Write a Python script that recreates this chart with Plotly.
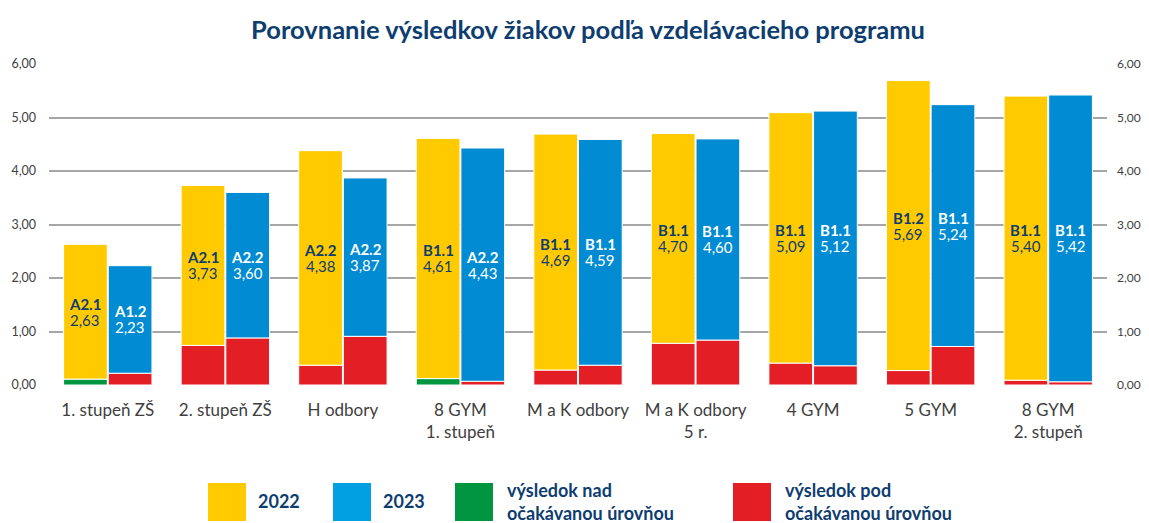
import plotly.graph_objects as go

categories = ["1. stupeň ZŠ", "2. stupeň ZŠ", "H odbory", "8 GYM<br>1. stupeň",
              "M a K odbory", "M a K odbory<br>5 r.", "4 GYM", "5 GYM", "8 GYM<br>2. stupeň"]
total_2022 = [2.63, 3.73, 4.38, 4.61, 4.69, 4.70, 5.09, 5.69, 5.40]
total_2023 = [2.23, 3.60, 3.87, 4.43, 4.59, 4.60, 5.12, 5.24, 5.42]
level_2022 = ["A2.1", "A2.1", "A2.2", "B1.1", "B1.1", "B1.1", "B1.1", "B1.2", "B1.1"]
level_2023 = ["A1.2", "A2.2", "A2.2", "A2.2", "B1.1", "B1.1", "B1.1", "B1.1", "B1.1"]
nad_2022 = [0.11, 0, 0, 0.12, 0, 0, 0, 0, 0]
pod_2022 = [0, 0.74, 0.37, 0, 0.28, 0.78, 0.41, 0.27, 0.09]
nad_2023 = [0, 0, 0, 0, 0, 0, 0, 0, 0]
pod_2023 = [0.22, 0.88, 0.91, 0.07, 0.37, 0.84, 0.36, 0.72, 0.06]

YELLOW = "#FFCA00"
BLUE = "#008BD2"
BLUE_LEG = "#00A0E3"
GREEN = "#009640"
RED = "#E31E24"
NAVY = "#0E3D70"
GRAY_TXT = "#404040"
FONT = "Lato"

# page has an 8px body margin: figure pixel = screen pixel - 8
OFF = 8
W, H = 1149 - OFF, 523 - OFF
# plot area in screen pixels: x 49..1107, y 64..385
ML, MT = 49 - OFF, 64 - OFF
MR = W - (1107 - OFF)
MB = H - (385 - OFF)


def fmt(v):
    return f"{v:.2f}".replace(".", ",")


def px2x(px):
    return (px - OFF - ML) / (W - ML - MR)


def px2y(py):
    return (H - MB - (py - OFF)) / (H - MT - MB)


fig = go.Figure()
annotations = []
BW = 0.372
for year, totals, levels, nad, pod, off, main_col, txt_col in [
    ("2022", total_2022, level_2022, nad_2022, pod_2022, -0.376, YELLOW, NAVY),
    ("2023", total_2023, level_2023, nad_2023, pod_2023, 0.004, BLUE, "white"),
]:
    bottom = [a + b for a, b in zip(nad, pod)]
    bcol = [GREEN if a > 0 else RED for a in nad]
    fig.add_trace(go.Bar(
        x=categories, y=bottom, width=BW, offset=off,
        marker=dict(color=bcol, line=dict(color="white", width=1)),
        showlegend=False, hoverinfo="skip"))
    fig.add_trace(go.Bar(
        x=categories, y=[t - b for t, b in zip(totals, bottom)], base=bottom,
        width=BW, offset=off,
        marker=dict(color=main_col, line=dict(color="white", width=1)),
        name=year, showlegend=False, hoverinfo="skip"))
    # labels centred in the upper segment
    for i, (lvl, t, b) in enumerate(zip(levels, totals, bottom)):
        xc = i + off + BW / 2
        ym = (t + b) / 2
        annotations.append(dict(x=xc, y=ym, xref="x", yref="y", text=f"<b>{lvl}</b>",
                                showarrow=False, yshift=8, xanchor="center", yanchor="middle",
                                font=dict(family=FONT, size=15, color=txt_col)))
        annotations.append(dict(x=xc, y=ym, xref="x", yref="y", text=fmt(t),
                                showarrow=False, yshift=-8, xanchor="center", yanchor="middle",
                                font=dict(family=FONT, size=15, color=txt_col)))

# invisible trace to anchor the right axis
fig.add_trace(go.Scatter(x=categories, y=total_2022, yaxis="y2", mode="markers",
                         marker=dict(opacity=0), showlegend=False, hoverinfo="skip"))

# custom legend
shapes = []
legend_items = [
    (208, YELLOW, 256, "2022"),
    (333, BLUE_LEG, 381, "2023"),
    (455, GREEN, 505, "výsledok nad<br>očakávanou úrovňou"),
    (733, RED, 783, "výsledok pod<br>očakávanou úrovňou"),
]
for sx, col, tx, label in legend_items:
    shapes.append(dict(type="rect", xref="paper", yref="paper",
                       x0=px2x(sx), x1=px2x(sx + 38), y0=px2y(521), y1=px2y(483),
                       fillcolor=col, line=dict(width=0)))
    annotations.append(dict(xref="paper", yref="paper", x=px2x(tx), y=px2y(501),
                            xanchor="left", yanchor="middle", align="left",
                            text=f"<b>{label}</b>", showarrow=False,
                            font=dict(family=FONT, size=18, color=NAVY)))

fig.update_layout(
    width=W, height=H,
    margin=dict(l=ML, r=MR, t=MT, b=MB, autoexpand=False),
    paper_bgcolor="white", plot_bgcolor="white",
    barmode="overlay",
    separators=",.",
    title=dict(text="<b>Porovnanie výsledkov žiakov podľa vzdelávacieho programu</b>",
               x=(588 - OFF) / W, xref="container", xanchor="center",
               y=1 - (30 - OFF) / H, yref="container", yanchor="middle",
               font=dict(family=FONT, size=25.5, color=NAVY)),
    xaxis=dict(type="category", showgrid=False, ticks="", showline=False,
               automargin=False, range=[-0.5, len(categories) - 0.5],
               tickfont=dict(family=FONT, size=17, color=GRAY_TXT),
               ticklabelstandoff=13),
    yaxis=dict(range=[0, 6], tickvals=[0, 1, 2, 3, 4, 5, 6], tickformat=".2f",
               showgrid=True, gridcolor="#A6A6A6", gridwidth=2, zeroline=False,
               showline=False, ticks="", ticklabelstandoff=12, automargin=False,
               tickfont=dict(family=FONT, size=12.5, color=GRAY_TXT)),
    yaxis2=dict(range=[0, 6], tickvals=[0, 1, 2, 3, 4, 5, 6], tickformat=".2f",
                overlaying="y", side="right", showgrid=False, zeroline=False,
                showline=False, ticks="", ticklabelstandoff=9, automargin=False,
                tickfont=dict(family=FONT, size=12, color=GRAY_TXT)),
    shapes=shapes,
    annotations=annotations,
)

fig.write_html("out.html")
